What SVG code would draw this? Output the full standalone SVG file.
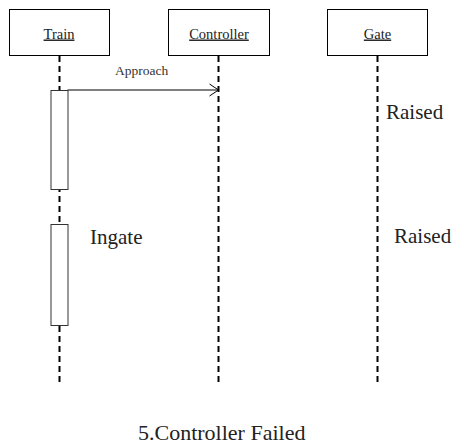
<svg xmlns="http://www.w3.org/2000/svg" width="454" height="446" viewBox="0 0 454 446">
  <style>
    .box { fill: #fff; stroke: #000; stroke-width: 1; }
    .life { stroke: #000; stroke-width: 2; stroke-dasharray: 6 4; fill: none; }
    .act { fill: #fff; stroke: #333; stroke-width: 1; }
    text { font-family: 'Liberation Serif', serif; }
    .name { font-size: 14.5px; text-decoration: underline; text-anchor: middle; fill: #222; }
    .small { font-size: 13.5px; fill: #333; }
    .label { font-size: 21px; fill: #222; }
    .title { font-size: 22px; fill: #222; }
    .msg { stroke: #000; stroke-width: 1; fill: none; }
  </style>
  <defs>
    <marker id="open" markerWidth="12" markerHeight="14" refX="10" refY="7" orient="auto" markerUnits="userSpaceOnUse">
      <path d="M1,1 L10,7 L1,13" fill="none" stroke="#000" stroke-width="1"/>
    </marker>
  </defs>
  <rect width="454" height="446" fill="#fff"/>

  <g id="connectors">
    <line class="life" x1="59.5" y1="56" x2="59.5" y2="382"/>
    <line class="life" x1="218.5" y1="56" x2="218.5" y2="382"/>
    <line class="life" x1="377.5" y1="56" x2="377.5" y2="382"/>
    <line class="msg" x1="67.5" y1="90" x2="218.5" y2="90" marker-end="url(#open)"/>
    <text class="small" x="115" y="75">Approach</text>
  </g>

  <g id="train">
    <rect class="box" x="9.5" y="9.5" width="100" height="46"/>
    <text class="name" x="59" y="38.5">Train</text>
  </g>
  <g id="controller">
    <rect class="box" x="168.5" y="9.5" width="101" height="46"/>
    <text class="name" x="219" y="38.5">Controller</text>
  </g>
  <g id="gate">
    <rect class="box" x="327.5" y="9.5" width="100" height="46"/>
    <text class="name" x="377.5" y="38.5">Gate</text>
  </g>

  <g id="activation1">
    <rect class="act" x="51" y="90.5" width="17" height="99"/>
  </g>
  <g id="activation2">
    <rect class="act" x="51" y="224.5" width="17" height="101"/>
  </g>

  <text class="label" x="386" y="119">Raised</text>
  <text class="label" x="90" y="244">Ingate</text>
  <text class="label" x="394" y="243">Raised</text>
  <text class="title" x="138" y="440">5.Controller Failed</text>
</svg>
